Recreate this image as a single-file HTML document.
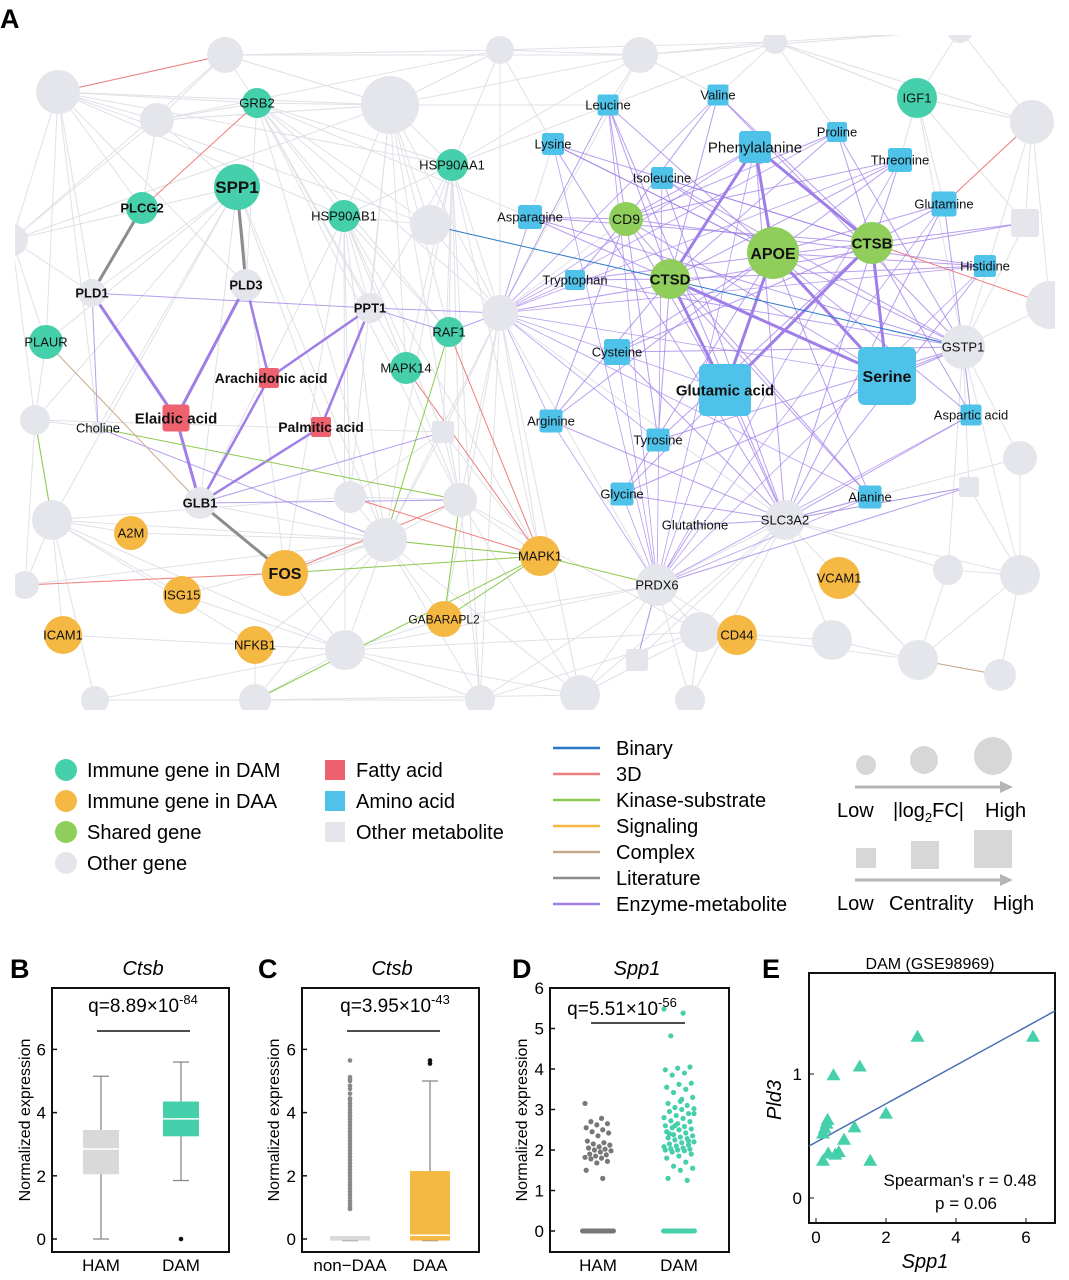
<!DOCTYPE html>
<html><head><meta charset="utf-8">
<style>
html,body{margin:0;padding:0;background:#fff;}
svg{display:block;font-family:"Liberation Sans",Arial,sans-serif;}
</style></head>
<body>
<svg id="fig" width="1069" height="1280" viewBox="0 0 1069 1280" xmlns="http://www.w3.org/2000/svg">
<defs><clipPath id="netclip"><rect x="15" y="35" width="1040" height="675"/></clipPath></defs>
<text x="0" y="28" font-size="27" font-weight="bold">A</text>
<g id="net" clip-path="url(#netclip)">
<g id="edges"></g>
<g id="nodes"></g>
</g>
<g id="legend"></g>
<g id="panelB"></g>
<g id="panelC"></g>
<g id="panelD"></g>
<g id="panelE"></g>
</svg>
<script>
// ---------- Panel B data ----------
const bCategories=["HAM","DAM"];
const bMin=[0,1.85], bQ1=[2.05,3.25], bMed=[2.85,3.8], bQ3=[3.45,4.35], bMax=[5.15,5.6];
const bOutliers=[[],[0]];
const bTicks=[0,2,4,6];
// ---------- Panel C data ----------
const cCategories=["non\u2212DAA","DAA"];
const cMin=[-0.05,-0.05], cQ1=[-0.05,-0.05], cMed=[0.12,0.12], cQ3=[0.12,2.15], cMax=[0.12,5.0];
const cOutliers=[[0.95,1.0,1.1,1.2,1.3,1.4,1.5,1.6,1.7,1.8,1.9,2.0,2.1,2.2,2.3,2.4,2.5,2.6,2.7,2.8,2.9,3.0,3.1,3.2,3.3,3.4,3.5,3.6,3.7,3.8,3.9,4.0,4.1,4.2,4.3,4.4,4.45,4.6,4.75,4.85,5.0,5.05,5.12,5.65],[5.55,5.65]];
// ---------- Panel D data ----------
const dCategories=["HAM","DAM"];
const dHam=[3.15,2.78,2.7,2.65,2.62,2.55,2.5,2.45,2.42,2.35,2.22,2.18,2.15,2.12,2.08,2.05,2.02,2.0,1.98,1.95,1.9,1.88,1.85,1.82,1.8,1.78,1.72,1.68,1.5,1.3];
const dDam=[5.48,5.38,4.82,4.05,4.02,3.98,3.9,3.85,3.65,3.62,3.55,3.5,3.42,3.3,3.2,3.15,3.1,3.05,3.02,3.0,2.95,2.9,2.85,2.8,2.78,2.72,2.7,2.65,2.6,2.58,2.55,2.52,2.5,2.45,2.42,2.38,2.35,2.32,2.3,2.28,2.25,2.2,2.18,2.15,2.12,2.1,2.08,2.05,2.03,2.02,2.0,2.0,1.98,1.95,1.9,1.85,1.8,1.7,1.6,1.55,1.5,1.3,1.25,2.6,2.9,3.25,2.4,2.22];
const dZeroHam=0, dZeroDam=0;
const dTicks=[0,1,2,3,4,5,6];
// ---------- Panel E data ----------
const eX=[0.2,0.2,0.25,0.3,0.35,0.5,0.55,0.65,0.8,1.1,1.25,1.55,2.0,2.9,6.2,0.33];
const eY=[0.3,0.52,0.56,0.6,0.36,0.99,0.35,0.37,0.47,0.57,1.06,0.3,0.68,1.3,1.3,0.63];
const eFitIntercept=0.45, eFitSlope=0.155;
const eXTicks=[0,2,4,6], eYTicks=[0,1];

const NS="http://www.w3.org/2000/svg";
function mk(parent,tag,attrs,text){const e=document.createElementNS(NS,tag);for(const k in attrs)e.setAttribute(k,attrs[k]);if(text!==undefined)e.textContent=text;parent.appendChild(e);return e;}

// ---------- Network ----------
const G="#e4e6eb",TEAL="#45cfaa",LG="#8fce5b",OR="#f5b843",RED="#ee6270",BLU="#4fc2ea";
const nodes={
 o1:[58,92,22,'c',G],o2:[225,55,18,'c',G],o3:[390,105,29,'c',G],o4:[157,120,17,'c',G],o5:[500,50,14,'c',G],o6:[640,55,18,'c',G],o7:[960,30,13,'c',G],o8:[775,42,12,'c',G],
 o9:[1032,122,22,'c',G],o10:[1050,305,24,'c',G],o11:[430,225,20,'c',G],o12:[500,313,18,'c',G],o13:[12,240,16,'c',G],o14:[35,420,15,'c',G],o15:[52,520,20,'c',G],
 o16:[385,540,22,'c',G],o17:[460,500,17,'c',G],o18:[350,497,16,'c',G],o19:[25,585,14,'c',G],o20:[345,650,20,'c',G],o21:[255,700,16,'c',G],o22:[480,700,15,'c',G],o23:[580,695,20,'c',G],
 o24:[700,632,20,'c',G],o25:[832,640,20,'c',G],o26:[918,660,20,'c',G],o27:[948,570,15,'c',G],o28:[1020,575,20,'c',G],o29:[1020,458,17,'c',G],o30:[1000,675,16,'c',G],o31:[690,700,15,'c',G],o32:[95,700,14,'c',G],
 sq1:[1025,223,28,'s',G],sq2:[443,432,22,'s',G],sq3:[969,487,20,'s',G],sq4:[637,660,22,'s',G],
 SLC3A2:[785,520,20,'c',G],PRDX6:[657,585,21,'c',G],GSTP1:[963,347,22,'c',G],Glutathione:[695,525,9,'s',G],
 PLD1:[92,293,14,'c',G],PLD3:[246,285,16,'c',G],PPT1:[370,308,15,'c',G],GLB1:[200,503,16,'c',G],Choline:[98,428,12,'s',G],
 GRB2:[257,103,15,'c',TEAL],SPP1:[237,187,23,'c',TEAL],PLCG2:[142,208,16,'c',TEAL],HSP90AB1:[344,216,16,'c',TEAL],HSP90AA1:[452,165,16,'c',TEAL],PLAUR:[46,342,17,'c',TEAL],RAF1:[449,332,15,'c',TEAL],MAPK14:[406,368,16,'c',TEAL],IGF1:[917,98,20,'c',TEAL],
 CD9:[626,219,17,'c',LG],APOE:[773,253,26,'c',LG],CTSB:[872,243,21,'c',LG],CTSD:[670,279,20,'c',LG],
 A2M:[131,533,17,'c',OR],FOS:[285,573,23,'c',OR],ISG15:[182,595,19,'c',OR],ICAM1:[63,635,19,'c',OR],NFKB1:[255,645,19,'c',OR],GABARAPL2:[444,619,18,'c',OR],MAPK1:[540,556,20,'c',OR],VCAM1:[839,578,21,'c',OR],CD44:[737,635,20,'c',OR],
 "Arachidonic acid":[269,378,20,'s',RED],"Elaidic acid":[176,418,27,'s',RED],"Palmitic acid":[321,427,20,'s',RED],
 Leucine:[608,105,21,'s',BLU],Valine:[718,95,21,'s',BLU],Lysine:[553,144,22,'s',BLU],Phenylalanine:[755,147,32,'s',BLU],Proline:[837,132,20,'s',BLU],Isoleucine:[662,178,22,'s',BLU],Threonine:[900,160,24,'s',BLU],
 Asparagine:[530,217,24,'s',BLU],Glutamine:[944,204,25,'s',BLU],Histidine:[985,266,22,'s',BLU],Tryptophan:[575,280,20,'s',BLU],Cysteine:[617,352,26,'s',BLU],"Glutamic acid":[725,390,52,'s',BLU],Serine:[887,376,58,'s',BLU],
 "Aspartic acid":[971,415,21,'s',BLU],Arginine:[551,421,23,'s',BLU],Tyrosine:[658,440,23,'s',BLU],Glycine:[622,494,23,'s',BLU],Alanine:[870,497,23,'s',BLU]
};
const labels={SLC3A2:[0,0,13,0],PRDX6:[0,0,13,0],GSTP1:[0,0,13,0],Glutathione:[0,0,13,0],PLD1:[0,0,13,1],PLD3:[0,0,13,1],PPT1:[0,0,13,1],GLB1:[0,0,13,1],Choline:[0,0,13,0],
 GRB2:[0,0,13,0],SPP1:[0,0,17,1],PLCG2:[0,0,13,1],HSP90AB1:[0,0,13,0],HSP90AA1:[0,0,13,0],PLAUR:[0,0,13,0],RAF1:[0,0,13,0],MAPK14:[0,0,13,0],IGF1:[0,0,13,0],
 CD9:[0,0,14,0],APOE:[0,0,16,1],CTSB:[0,0,15,1],CTSD:[0,0,15,1],A2M:[0,0,13,0],FOS:[0,0,16,1],ISG15:[0,0,13,0],ICAM1:[0,0,13,0],NFKB1:[0,0,13,0],GABARAPL2:[0,0,12,0],MAPK1:[0,0,13,0],VCAM1:[0,0,13,0],CD44:[0,0,13,0],
 "Arachidonic acid":[2,0,14,1],"Elaidic acid":[0,0,15,1],"Palmitic acid":[0,0,14,1],
 Leucine:[0,0,13,0],Valine:[0,0,13,0],Lysine:[0,0,13,0],Phenylalanine:[0,0,15,0],Proline:[0,0,13,0],Isoleucine:[0,0,13,0],Threonine:[0,0,13,0],Asparagine:[0,0,13,0],Glutamine:[0,0,13,0],Histidine:[0,0,13,0],
 Tryptophan:[0,0,13,0],Cysteine:[0,0,13,0],"Glutamic acid":[0,0,15,1],Serine:[0,0,16,1],"Aspartic acid":[0,0,13,0],Arginine:[0,0,13,0],Tyrosine:[0,0,13,0],Glycine:[0,0,13,0],Alanine:[0,0,13,0]};
const EC={b:"#2878c8",d:"#ef7d7d",k:"#8cc84b",s:"#f5b843",c:"#c8a98a",l:"#8c8c8c",e:"#9f7ee8",g:"#dfe1e7"};
const edges=[];
function add(a,list,t,w){list.forEach(b=>edges.push([a,b,t,w||1]));}
// background gray edges
add('o1',['o2','o4','GRB2','o3','PLCG2','PLD1','PLAUR','o13','Choline','PLD3','o11','HSP90AA1'],'g');
add('GRB2',['o3','o2','o4','HSP90AA1','o11','PPT1','RAF1','MAPK14','o12','HSP90AB1','Asparagine','PLD3','o16','o17'],'g');
add('o3',['o2','o5','o6','HSP90AA1','HSP90AB1','PPT1','RAF1','o11','o12','MAPK14','o4','o13','Leucine','o18','o17'],'g');
add('HSP90AB1',['o11','PPT1','RAF1','MAPK14','o16','o17','o18','sq2','GLB1','HSP90AA1','FOS','MAPK1','o20','o1'],'g');
add('HSP90AA1',['o5','o6','o11','o12','RAF1','MAPK14','PPT1','o16','o17','sq2','o22','MAPK1','o8'],'g');
add('o12',['o11','o6','o5','Lysine','Leucine','CD9','o16','o17','MAPK1','PRDX6','SLC3A2','o23','o22','sq2','GABARAPL2'],'g');
add('o16',['FOS','o20','MAPK1','GABARAPL2','o18','o17','o21','NFKB1','o22','o23','ISG15','A2M','GLB1','o15','o19'],'g');
add('SPP1',['PLAUR','o13','PLD1','Choline','o14','o15','GLB1','o16','o18','o4','FOS'],'g');
add('o6',['o5','o8','Leucine','Valine','o2','o7'],'g');add('o8',['o7','Valine','IGF1','o9','Proline'],'g');
add('IGF1',['o9','Threonine','Glutamine','o7','o8','sq1','GSTP1'],'g');
add('o9',['o7','sq1','o10','Glutamine','GSTP1'],'g');
add('GSTP1',['o10','sq1','o29','sq3','o28','o27','Aspartic acid'],'g');
add('SLC3A2',['o24','o25','o26','o27','o28','o31','PRDX6','sq4','o23','sq3','o29'],'g');
add('PRDX6',['o24','o23','sq4','o22','o31','GABARAPL2','o20','CD44'],'g');
add('o24',['o25','o23','o31','o22','CD44','o26','o20'],'g');
add('o26',['o25','o30','o28','o27','VCAM1'],'g');
add('o15',['o14','o19','A2M','ICAM1','ISG15','o32','o20','NFKB1','o18'],'g');
add('o20',['o21','o22','NFKB1','ISG15','FOS','o32','o23','GABARAPL2','ICAM1'],'g');
add('o21',['o32','o22','NFKB1','o23'],'g');
add('o13',['PLD1','PLAUR','o14','o4','o2'],'g');
add('o14',['o19','o15','PLAUR','Choline'],'g');
add('sq2',['o17','o18','o16','MAPK1','o14'],'g');
add('o17',['o18','MAPK1','o22','GABARAPL2','o23','o24'],'g');
add('o4',['o2','o5','o3','PLCG2'],'g');add('o2',['o5','o3'],'g');add('o5',['o8','Lysine'],'g');
add('o28',['o29','o30','o27','sq3'],'g');
// enzyme-metabolite edges
const hubs=['CTSD','APOE','CTSB','o12','SLC3A2','GSTP1','CD9','PRDX6'];
const amino=['Leucine','Valine','Lysine','Phenylalanine','Proline','Isoleucine','Threonine','Asparagine','Glutamine','Histidine','Tryptophan','Cysteine','Glutamic acid','Serine','Aspartic acid','Arginine','Tyrosine','Glycine','Alanine'];
amino.forEach((a,i)=>hubs.forEach((h,j)=>{if((i+j)%3!==2)edges.push([a,h,'e',(h==='o12'||h==='PRDX6')?0.8:1]);}));
add('Phenylalanine',['CTSD','APOE','CTSB'],'e',3);add('Glutamic acid',['CTSD','APOE','CTSB'],'e',3);add('Serine',['CTSD','APOE','CTSB'],'e',3);
add('Elaidic acid',['PLD1','PLD3','GLB1'],'e',3);add('Arachidonic acid',['PPT1','PLD3','GLB1'],'e',2.5);add('Palmitic acid',['PPT1','GLB1'],'e',2.5);
add('PLD1',['PPT1','Choline'],'e');add('PPT1',['o12','RAF1'],'e');add('RAF1',['o12'],'e');add('GLB1',['sq2','o17'],'e');add('Choline',['o16'],'e');
add('PRDX6',['sq3','Glutathione','sq4'],'e');add('SLC3A2',['Glutathione','sq3'],'e');add('o12',['sq1'],'e');add('CTSB',['sq1'],'e');
add('PLCG2',['PLD1'],'l',3);add('SPP1',['PLD3'],'l',3);add('FOS',['GLB1'],'l',3);
add('GRB2',['PLCG2'],'d');add('o1',['o2'],'d');add('MAPK14',['MAPK1'],'d');add('RAF1',['MAPK1'],'d');add('FOS',['o19','o17'],'d');add('MAPK1',['o18'],'d');add('CTSB',['o10'],'d');add('Glutamine',['o9'],'d');
add('RAF1',['o16'],'k');add('MAPK1',['GABARAPL2','o21','o16','PRDX6','FOS'],'k');add('GABARAPL2',['o17'],'k');add('o14',['o15'],'k');add('Choline',['o17'],'k');
add('PLAUR',['GLB1'],'c');add('o30',['o26'],'c');
add('o11',['GSTP1'],'b');
const eg=document.getElementById('edges');
const order={g:0,e:1,l:2,d:2,k:2,c:2,b:3};
edges.sort((a,b)=>order[a[2]]-order[b[2]]).forEach(([a,b,t,w])=>{
 const A=nodes[a],B=nodes[b];if(!A||!B)return;
 const l=mk(eg,'line',{x1:A[0],y1:A[1],x2:B[0],y2:B[1],stroke:EC[t],'stroke-width':t==='g'?1:w,'stroke-opacity':t==='e'&&w<2?0.75:1});
 
 
});
const ng=document.getElementById('nodes');
for(const k in nodes){
 const [x,y,r,s,c]=nodes[k];
 let el;
 if(s==='c') el=mk(ng,'circle',{cx:x,cy:y,r:r,fill:c});
 else el=mk(ng,'rect',{x:x-r/2,y:y-r/2,width:r,height:r,rx:Math.max(2,r/9),fill:c});
 
 
 if(labels[k]){const L=labels[k];
  const t=mk(ng,'text',{x:x+L[0],y:y+L[1]+L[2]*0.36,'font-size':L[2],'text-anchor':'middle','font-weight':L[3]?'bold':'normal',fill:'#111'},k);
  
  }
}

// ---------- Legend ----------
const lg=document.getElementById('legend');
const nodeLeg=[["Immune gene in DAM",TEAL,'c'],["Immune gene in DAA",OR,'c'],["Shared gene",LG,'c'],["Other gene",G,'c']];
nodeLeg.forEach((d,i)=>{const y=770+i*31;const c=mk(lg,'circle',{cx:66,cy:y,r:11,fill:d[1]});
 const t=mk(lg,'text',{x:87,y:y+7,'font-size':20},d[0]);});
const metLeg=[["Fatty acid",RED],["Amino acid",BLU],["Other metabolite",G]];
metLeg.forEach((d,i)=>{const y=770+i*31;const c=mk(lg,'rect',{x:325,y:y-10,width:20,height:20,fill:d[1]});
 const t=mk(lg,'text',{x:356,y:y+7,'font-size':20},d[0]);});
const edgeLeg=[["Binary",EC.b],["3D",EC.d],["Kinase-substrate",EC.k],["Signaling",EC.s],["Complex",EC.c],["Literature",EC.l],["Enzyme-metabolite",EC.e]];
edgeLeg.forEach((d,i)=>{const y=748+i*26;const c=mk(lg,'line',{x1:553,x2:600,y1:y,y2:y,stroke:d[1],'stroke-width':2.5});
 const t=mk(lg,'text',{x:616,y:y+7,'font-size':20},d[0]);});
[[866,765,10],[924,760,14],[993,756,19]].forEach(([x,y,r])=>{const c=mk(lg,'circle',{cx:x,cy:y,r:r,fill:'#d7d7d7'});});
[[866,858,20],[925,855,28],[993,849,38]].forEach(([x,y,s])=>{const c=mk(lg,'rect',{x:x-s/2,y:y-s/2,width:s,height:s,fill:'#d7d7d7'});});
[787,880].forEach(y=>{const l=mk(lg,'line',{x1:855,x2:1002,y1:y,y2:y,stroke:'#b5b5b5','stroke-width':3});
 const p=mk(lg,'path',{d:`M1000 ${y-6} L1013 ${y} L1000 ${y+6}Z`,fill:'#b5b5b5'});});
const lt1=mk(lg,'text',{x:837,y:817,'font-size':20},'Low');
const lt2=mk(lg,'text',{x:985,y:817,'font-size':20},'High');
const lt3=mk(lg,'text',{x:893,y:817,'font-size':20},'|log');
const sub=mk(lt3,'tspan',{'font-size':13,dy:5},'2');const rest=mk(lt3,'tspan',{dy:-5},'FC|');
const lt4=mk(lg,'text',{x:837,y:910,'font-size':20},'Low');
const lt5=mk(lg,'text',{x:889,y:910,'font-size':20},'Centrality');
const lt6=mk(lg,'text',{x:993,y:910,'font-size':20},'High');

// ---------- common axis helper ----------
function frame(g,letter,lx,title,tx,x0,x1,y0,y1){
 const L=mk(g,'text',{x:lx,y:978,'font-size':27,'font-weight':'bold'},letter);
 if(title){const T=mk(g,'text',{x:tx,y:975,'font-size':20,'font-style':'italic','text-anchor':'middle'},title);}
 const R=mk(g,'rect',{x:x0,y:y0,width:x1-x0,height:y1-y0,fill:'none',stroke:'#111','stroke-width':2});
}
function yTicks(g,x0,ticks,ys,minor){
 ticks.forEach(v=>{const y=ys(v);const l=mk(g,'line',{x1:x0,x2:x0+5,y1:y,y2:y,stroke:'#111','stroke-width':1.5});
 const t=mk(g,'text',{x:x0-6,y:y+6,'font-size':17,'text-anchor':'end'},v);});
}
function yTitle(g,x,y,txt,italic,size){const t=mk(g,'text',{x:x,y:y,'font-size':size||16,'text-anchor':'middle',transform:`rotate(-90 ${x} ${y})`,'font-style':italic?'italic':'normal'},txt);}
function qLabel(g,x,y,base,exp,x1,x2,ly){
 const t=mk(g,'text',{x:x,y:y,'font-size':19,'text-anchor':'middle'},base);
 mk(t,'tspan',{'font-size':13,dy:-8},exp);
 const l=mk(g,'line',{x1:x1,x2:x2,y1:ly,y2:ly,stroke:'#111','stroke-width':1.5});
}
function boxplot(g,cats,xs,mins,q1,med,q3,max,outs,ys,colors,bw,outColor){
 cats.forEach((c,i)=>{const x=xs[i];
  const w=mk(g,'line',{x1:x,x2:x,y1:ys(max[i]),y2:ys(min(i)),stroke:'#8a8a8a','stroke-width':1.3});
  [max[i],mins[i]].forEach(v=>{const cap=mk(g,'line',{x1:x-8,x2:x+8,y1:ys(v),y2:ys(v),stroke:'#8a8a8a','stroke-width':1.3});});
  const h=Math.max(3,ys(q1[i])-ys(q3[i]));
  const b=mk(g,'rect',{x:x-bw/2,y:ys(q3[i]),width:bw,height:h,fill:colors[i]});
  const m=mk(g,'line',{x1:x-bw/2,x2:x+bw/2,y1:ys(med[i]),y2:ys(med[i]),stroke:'#fff','stroke-width':1.5});
  outs[i].forEach(v=>{const o=mk(g,'circle',{cx:x,cy:ys(v),r:2.3,fill:outColor[i]});});
  const t=mk(g,'text',{x:x,y:1271,'font-size':17,'text-anchor':'middle'},c);
 });
 function min(i){return mins[i];}
}
// ---------- Panel B ----------
(function(){const g=document.getElementById('panelB');
 const x0=52,x1=229,y0=988,y1=1252;const ys=v=>1239-v*31.6;
 frame(g,'B',10,'Ctsb',143,x0,x1,y0,y1);
 yTicks(g,x0,bTicks,ys);yTitle(g,30,1120,'Normalized expression');
 qLabel(g,143,1012,'q=8.89\u00d710','-84',97,190,1031);
 boxplot(g,bCategories,[101,181],bMin,bQ1,bMed,bQ3,bMax,bOutliers,ys,['#d9d9d9','#45cfaa'],36,['#111','#111']);
})();
// ---------- Panel C ----------
(function(){const g=document.getElementById('panelC');
 const x0=302,x1=479,y0=988,y1=1252;const ys=v=>1239-v*31.6;
 frame(g,'C',258,'Ctsb',392,x0,x1,y0,y1);
 yTicks(g,x0,bTicks,ys);yTitle(g,279,1120,'Normalized expression');
 qLabel(g,395,1012,'q=3.95\u00d710','-43',347,440,1031);
 boxplot(g,cCategories,[350,430],cMin,cQ1,cMed,cQ3,cMax,cOutliers,ys,['#d9d9d9','#f5b843'],40,['#888','#111']);
})();
// ---------- Panel D ----------
(function(){const g=document.getElementById('panelD');
 const x0=550,x1=729,y0=988,y1=1252;const ys=v=>1231-v*40.5;const xs=[598,679];
 frame(g,'D',512,'Spp1',637,x0,x1,y0,y1);
 yTicks(g,x0,dTicks,ys);yTitle(g,527,1120,'Normalized expression');
 qLabel(g,622,1015,'q=5.51\u00d710','-56',591,685,1023);
 [dHam,dDam].forEach((arr,ci)=>{const col=ci?'#45cfaa':'#777';
  arr.forEach((v,i)=>{const jit=(((i*37)%23)/22-0.5)*(ci?30:26);
   const c=mk(g,'circle',{cx:xs[ci]+jit,cy:ys(v),r:2.6,fill:col});});
  const z=mk(g,'rect',{x:xs[ci]-18,y:ys(ci?dZeroDam:dZeroHam)-2.5,width:36,height:5,rx:2.5,fill:col});
  const t=mk(g,'text',{x:xs[ci],y:1271,'font-size':17,'text-anchor':'middle'},dCategories[ci]);
 });
})();
// ---------- Panel E ----------
(function(){const g=document.getElementById('panelE');
 const x0=809,x1=1055,y0=973,y1=1223;const xs=v=>816+v*35;const ys=v=>1198-v*124;
 const L=mk(g,'text',{x:762,y:978,'font-size':27,'font-weight':'bold'},'E');
 const T=mk(g,'text',{x:930,y:969,'font-size':16,'text-anchor':'middle'},'DAM (GSE98969)');
 const R=mk(g,'rect',{x:x0,y:y0,width:x1-x0,height:y1-y0,fill:'none',stroke:'#111','stroke-width':2});
 eYTicks.forEach(v=>{const l=mk(g,'line',{x1:x0,x2:x0+5,y1:ys(v),y2:ys(v),stroke:'#111'});
  const t=mk(g,'text',{x:x0-7,y:ys(v)+6,'font-size':17,'text-anchor':'end'},v);});
 eXTicks.forEach(v=>{const l=mk(g,'line',{x1:xs(v),x2:xs(v),y1:y1,y2:y1-5,stroke:'#111'});
  const t=mk(g,'text',{x:xs(v),y:1243,'font-size':17,'text-anchor':'middle'},v);});
 const fx2=(x1-816)/35;
 const f=mk(g,'line',{x1:x0,y1:ys(eFitIntercept+eFitSlope*((x0-816)/35)),x2:x1,y2:ys(eFitIntercept+eFitSlope*fx2),stroke:'#4a6fb5','stroke-width':1.5});
 eX.forEach((v,i)=>{const x=xs(v),y=ys(eY[i]);const p=mk(g,'path',{d:`M${x} ${y-7}L${x+7} ${y+5}L${x-7} ${y+5}Z`,fill:'#45cfaa'});});
 const s1=mk(g,'text',{x:960,y:1186,'font-size':17,'text-anchor':'middle'},"Spearman's r = 0.48");
 const s2=mk(g,'text',{x:966,y:1209,'font-size':17,'text-anchor':'middle'},'p = 0.06');
 const xt=mk(g,'text',{x:925,y:1268,'font-size':20,'font-style':'italic','text-anchor':'middle'},'Spp1');
 yTitle(g,781,1100,'Pld3',true,20);
})();
</script>
</body></html>
